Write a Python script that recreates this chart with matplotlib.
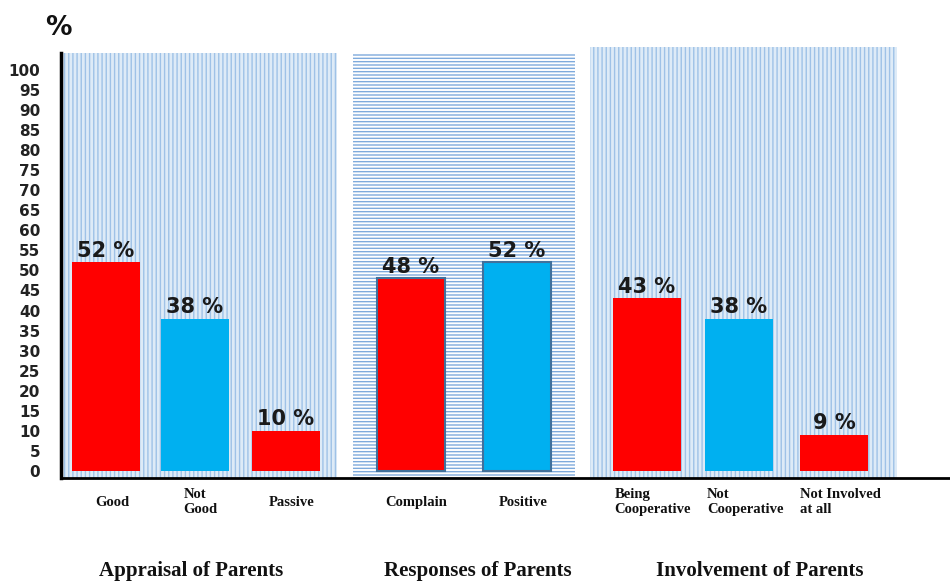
import numpy as np
import matplotlib
matplotlib.use('Agg')
import matplotlib.pyplot as plt
from matplotlib.patches import Rectangle

# =============================================================================
# Data
# =============================================================================
groups        = ['Appraisal of Parents', 'Responses of Parents', 'Involvement of Parents']
appraisal_lbl = ['Good', 'Not\nGood', 'Passive']
appraisal_val = [52, 38, 10]
response_lbl  = ['Complain', 'Positive']
response_val  = [48, 52]
involve_lbl   = ['Being\nCooperative', 'Not\nCooperative', 'Not Involved\nat all']
involve_val   = [43, 38, 9]

RED  = '#ff0000'
BLUE = '#00b0f0'
appraisal_col = [RED, BLUE, RED]
response_col  = [RED, BLUE]
involve_col   = [RED, BLUE, RED]

plt.rcParams['hatch.linewidth'] = 1.0

# =============================================================================
# Layout (x axis in pixel-like units)
# =============================================================================
appraisal_x = [45, 133.5, 225]
response_x  = [349.5, 456]
involve_x   = [585.5, 678, 773]
bar_w       = 68
y_lo, y_hi  = -1.75, 104.2

fig = plt.figure(figsize=(9.5, 5.81), dpi=100)
ax = fig.add_axes([61/950, 1 - 478/581, 889/950, 425/581])
ax.set_xlim(0, 889)
ax.set_ylim(y_lo, y_hi)

# background panels
ax.add_patch(Rectangle((1, y_lo), 275, y_hi - y_lo, facecolor='#deebf7',
                       edgecolor='#9fc2e7', lw=0, hatch='||||', zorder=0))
ax.add_patch(Rectangle((292, y_lo), 222, y_hi - y_lo, facecolor='white',
                       edgecolor='#7eaadc', lw=0, hatch='-----', zorder=0))
ax.add_patch(Rectangle((529, y_lo), 307, y_hi - y_lo + 1.5, facecolor='#deebf7',
                       edgecolor='#9fc2e7', lw=0, hatch='||||', zorder=0, clip_on=False))

# bars
ax.bar(appraisal_x, appraisal_val, width=bar_w, color=appraisal_col, zorder=2)
ax.bar(response_x, response_val, width=bar_w, color=response_col,
       edgecolor='#41719c', linewidth=1.5, zorder=2)
ax.bar(involve_x, involve_val, width=bar_w, color=involve_col, zorder=2)

# value labels and category labels
for xs, vals, lbls in [(appraisal_x, appraisal_val, appraisal_lbl),
                       (response_x, response_val, response_lbl),
                       (involve_x, involve_val, involve_lbl)]:
    for x, v, l in zip(xs, vals, lbls):
        ax.annotate('{} %'.format(v), (x, v), xytext=(0, 1), textcoords='offset points',
                    ha='center', va='bottom', fontsize=15, fontweight='bold',
                    color='#1a1a1a', family='DejaVu Sans', zorder=3)
        ax.text(x + 6, -0.0565, l, transform=ax.get_xaxis_transform(),
                ha='center', va='center', multialignment='left',
                fontsize=10.5, fontweight='bold', family='Liberation Serif',
                color='#111111', linespacing=1.15)

# axes styling
ax.set_yticks(np.arange(0, 101, 5))
ax.set_yticklabels([str(t) for t in range(0, 101, 5)], fontsize=11,
                   fontweight='bold', color='#222222')
ax.tick_params(axis='y', length=0, pad=15)
ax.set_xticks([])
for s in ['top', 'right']:
    ax.spines[s].set_visible(False)
ax.spines['left'].set_linewidth(2.5)
ax.spines['bottom'].set_linewidth(2)
ax.spines['left'].set_zorder(4)
ax.spines['bottom'].set_zorder(4)

fig.text(58/950, 1 - 28/581, '%', ha='center', va='center', fontsize=19,
         fontweight='bold', color='#111111')

for cx, g in zip([191, 478, 760], groups):
    fig.text(cx/950, 1 - 571/581, g, ha='center', va='center', fontsize=15,
             fontweight='bold', family='Liberation Serif', color='#111111')

plt.savefig('out.png', dpi=100)
